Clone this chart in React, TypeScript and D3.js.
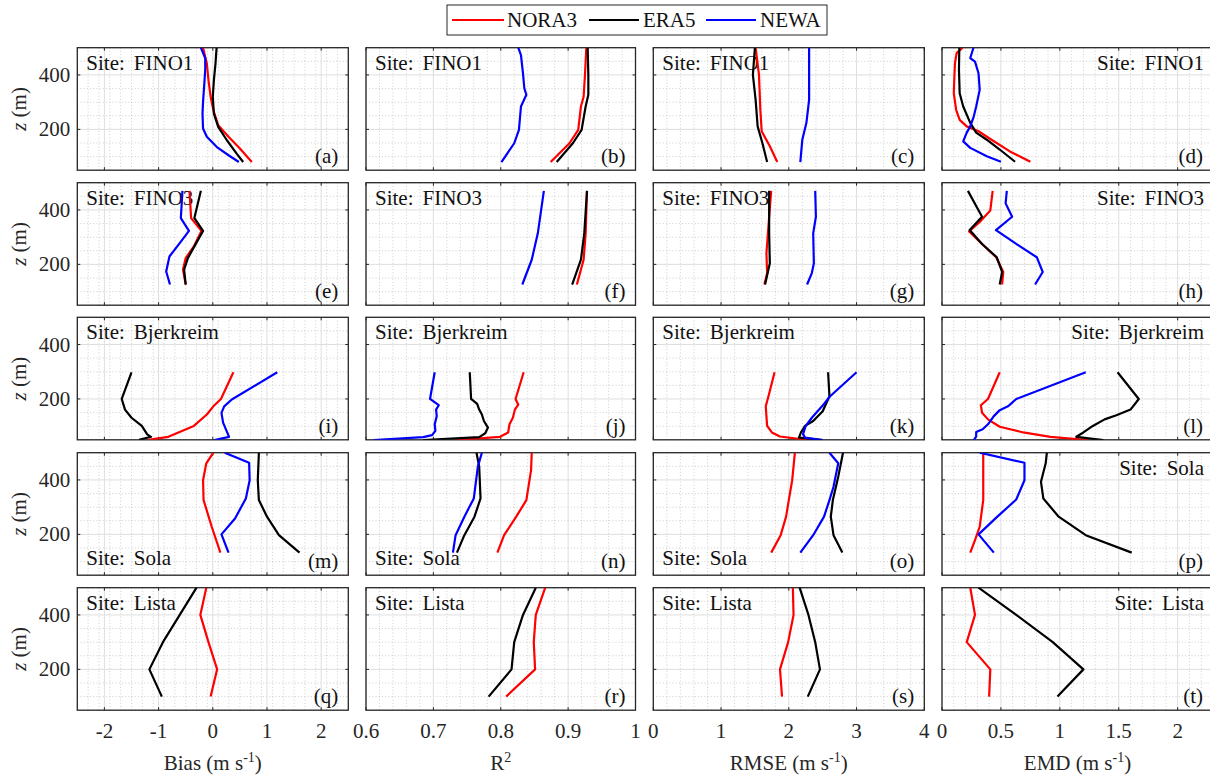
import React from 'react';
import * as d3 from 'd3';

type P = [number, number]; // [metric value, height z (m)]

// ---------- Data: [value, z] ----------
// Row 1: FINO1
const aNORA3: P[] = [[0.72,80],[0.50,130],[0.29,173],[0.10,215],[0.01,271],[-0.04,320],[-0.08,381],[-0.11,442],[-0.18,500]];
const aERA5: P[] = [[0.56,80],[0.44,111],[0.26,160],[0.10,209],[0.02,258],[0.0,320],[0.02,381],[0.05,442],[0.07,500]];
const aNEWA: P[] = [[0.48,80],[0.29,105],[0.07,136],[-0.11,173],[-0.18,203],[-0.19,258],[-0.18,301],[-0.16,357],[-0.14,418],[-0.14,461],[-0.22,500]];
const bNORA3: P[] = [[0.874,80],[0.902,149],[0.915,198],[0.919,284],[0.923,320],[0.925,400],[0.927,500]];
const bERA5: P[] = [[0.883,80],[0.907,149],[0.920,198],[0.926,284],[0.930,327],[0.930,400],[0.929,500]];
const bNEWA: P[] = [[0.801,80],[0.820,149],[0.827,198],[0.830,284],[0.838,327],[0.835,351],[0.833,406],[0.830,473],[0.826,500]];
const cNORA3: P[] = [[1.83,80],[1.72,138],[1.60,193],[1.58,272],[1.56,400],[1.51,500]];
const cERA5: P[] = [[1.68,80],[1.61,150],[1.54,211],[1.51,309],[1.47,400],[1.50,500]];
const cNEWA: P[] = [[2.17,80],[2.20,163],[2.26,224],[2.30,309],[2.30,400],[2.30,500]];
const dNORA3: P[] = [[0.75,81],[0.576,119],[0.42,162],[0.31,193],[0.21,211],[0.15,235],[0.12,272],[0.10,333],[0.104,382],[0.11,443],[0.124,480],[0.175,500]];
const dERA5: P[] = [[0.62,81],[0.49,126],[0.38,162],[0.29,188],[0.24,224],[0.18,284],[0.15,333],[0.144,418],[0.147,500]];
const dNEWA: P[] = [[0.50,81],[0.38,101],[0.24,132],[0.18,156],[0.21,188],[0.24,211],[0.27,248],[0.29,284],[0.32,345],[0.31,406],[0.28,449],[0.24,462],[0.267,500]];
// Row 2: FINO3
const eNORA3: P[] = [[-0.50,126],[-0.55,181],[-0.50,223],[-0.35,266],[-0.21,323],[-0.40,370],[-0.43,470]];
const eERA5: P[] = [[-0.50,126],[-0.53,181],[-0.46,223],[-0.34,266],[-0.18,323],[-0.34,370],[-0.22,470]];
const eNEWA: P[] = [[-0.79,126],[-0.86,174],[-0.80,229],[-0.61,278],[-0.44,323],[-0.59,370],[-0.56,470]];
const fNORA3: P[] = [[0.913,126],[0.923,217],[0.926,314],[0.928,470]];
const fERA5: P[] = [[0.906,126],[0.919,217],[0.924,314],[0.928,470]];
const fNEWA: P[] = [[0.832,126],[0.846,217],[0.855,314],[0.864,470]];
const gNORA3: P[] = [[1.64,126],[1.68,168],[1.67,241],[1.71,375],[1.74,470]];
const gERA5: P[] = [[1.65,126],[1.72,204],[1.71,314],[1.71,470]];
const gNEWA: P[] = [[2.27,126],[2.34,168],[2.37,204],[2.36,314],[2.40,375],[2.39,470]];
const hNORA3: P[] = [[0.51,126],[0.52,172],[0.46,226],[0.34,275],[0.23,321],[0.33,360],[0.41,398],[0.43,470]];
const hERA5: P[] = [[0.49,126],[0.51,172],[0.465,226],[0.34,275],[0.235,326],[0.34,375],[0.22,470]];
const hNEWA: P[] = [[0.79,126],[0.855,172],[0.805,226],[0.63,275],[0.458,326],[0.595,375],[0.54,424],[0.55,470]];
// Row 3: Bjerkreim
const iNORA3: P[] = [[-1.19,50],[-0.82,61],[-0.35,101],[-0.11,143],[0.01,173],[0.15,200],[0.38,298]];
const iERA5: P[] = [[-1.36,50],[-1.14,61],[-1.21,70],[-1.31,101],[-1.50,131],[-1.62,161],[-1.68,200],[-1.50,298]];
const iNEWA: P[] = [[0.03,49],[0.30,61],[0.19,113],[0.16,149],[0.21,173],[0.35,198],[1.19,298]];
const jNORA3: P[] = [[0.735,49],[0.799,61],[0.811,77],[0.813,107],[0.818,131],[0.821,161],[0.826,179],[0.822,200],[0.834,298]];
const jERA5: P[] = [[0.685,49],[0.768,60],[0.777,74],[0.781,95],[0.775,119],[0.772,143],[0.768,161],[0.765,182],[0.756,200],[0.754,298]];
const jNEWA: P[] = [[0.611,49],[0.685,60],[0.698,67],[0.703,83],[0.702,107],[0.705,137],[0.704,161],[0.708,177],[0.695,200],[0.702,298]];
const kNORA3: P[] = [[2.29,49],[1.87,62],[1.75,77],[1.68,101],[1.66,173],[1.70,210],[1.79,298]];
const kERA5: P[] = [[2.50,49],[2.15,58],[2.18,77],[2.24,101],[2.36,119],[2.50,155],[2.60,210],[2.58,298]];
const kNEWA: P[] = [[2.50,49],[2.24,58],[2.21,71],[2.25,101],[2.34,131],[2.49,173],[2.61,210],[3.00,298]];
const lNORA3: P[] = [[1.24,49],[0.92,61],[0.69,77],[0.49,98],[0.39,125],[0.34,149],[0.33,177],[0.39,200],[0.49,298]];
const lERA5: P[] = [[1.37,49],[1.14,61],[1.20,77],[1.28,101],[1.38,125],[1.48,140],[1.60,161],[1.67,200],[1.49,298]];
const lNEWA: P[] = [[0.27,49],[0.29,62],[0.29,79],[0.345,89],[0.39,107],[0.44,137],[0.49,159],[0.56,173],[0.63,200],[1.22,298]];
// Row 4: Sola
const mNORA3: P[] = [[0.14,133],[-0.02,228],[-0.17,326],[-0.18,399],[-0.12,461],[0.01,500]];
const mERA5: P[] = [[1.60,133],[1.22,197],[1.00,265],[0.85,326],[0.83,399],[0.85,500]];
const mNEWA: P[] = [[0.29,133],[0.16,200],[0.41,258],[0.61,332],[0.68,399],[0.67,463],[0.22,500]];
const nNORA3: P[] = [[0.795,133],[0.805,197],[0.823,265],[0.838,326],[0.845,436],[0.846,500]];
const nERA5: P[] = [[0.735,133],[0.746,197],[0.761,265],[0.770,332],[0.768,449],[0.764,500]];
const nNEWA: P[] = [[0.729,133],[0.733,197],[0.746,265],[0.760,332],[0.766,449],[0.772,500]];
const oNORA3: P[] = [[1.74,133],[1.88,197],[1.96,265],[2.00,326],[2.05,399],[2.09,500]];
const oERA5: P[] = [[2.79,133],[2.66,197],[2.62,265],[2.65,326],[2.73,412],[2.80,500]];
const oNEWA: P[] = [[2.17,133],[2.36,197],[2.52,265],[2.60,326],[2.66,375],[2.73,461],[2.60,500]];
const pNORA3: P[] = [[0.24,133],[0.28,179],[0.32,228],[0.35,326],[0.35,500]];
const pERA5: P[] = [[1.61,133],[1.22,197],[0.99,265],[0.86,332],[0.84,393],[0.88,461],[0.89,500]];
const pNEWA: P[] = [[0.44,133],[0.31,200],[0.47,265],[0.63,328],[0.70,399],[0.70,463],[0.32,500]];
// Row 5: Lista (no NEWA)
const qNORA3: P[] = [[-0.04,100],[0.08,200],[-0.08,300],[-0.23,400],[-0.12,500]];
const qERA5: P[] = [[-0.94,100],[-1.17,200],[-0.92,300],[-0.61,400],[-0.30,500]];
const rNORA3: P[] = [[0.808,100],[0.851,200],[0.849,300],[0.852,400],[0.866,500]];
const rERA5: P[] = [[0.782,100],[0.816,200],[0.820,300],[0.833,400],[0.852,500]];
const sNORA3: P[] = [[1.90,100],[1.87,200],[1.99,300],[2.07,400],[2.06,500]];
const sERA5: P[] = [[2.28,100],[2.46,200],[2.39,300],[2.29,400],[2.16,500]];
const tNORA3: P[] = [[0.40,100],[0.41,200],[0.21,300],[0.28,400],[0.24,500]];
const tERA5: P[] = [[0.98,100],[1.20,200],[0.94,300],[0.63,400],[0.31,500]];

const sites = ['FINO1', 'FINO3', 'Bjerkreim', 'Sola', 'Lista'];
const panelLetters = ['a','b','c','d','e','f','g','h','i','j','k','l','m','n','o','p','q','r','s','t'];
const seriesNames = ['NORA3', 'ERA5', 'NEWA'];
const seriesColors = ['#ff0000', '#000000', '#0000ff'];

const xDomains: [number, number][] = [[-2.5, 2.5], [0.6, 1], [0, 4], [0, 2.3]];
const xMajorTicks = [[-2, -1, 0, 1, 2], [0.6, 0.7, 0.8, 0.9, 1], [0, 1, 2, 3, 4], [0, 0.5, 1, 1.5, 2]];
const xTickLabels = [['-2', '-1', '0', '1', '2'], ['0.6', '0.7', '0.8', '0.9', '1'], ['0', '1', '2', '3', '4'], ['0', '0.5', '1', '1.5', '2']];
const xMinorStep = [0.2, 0.02, 0.2, 0.1];
const zDomain: [number, number] = [50, 500];
const zMajorTicks = [200, 400];
const zTickLabels = ['200', '400'];
const zMinorStep = 50;

const panelData: P[][][][] = [
  [[aNORA3, aERA5, aNEWA], [bNORA3, bERA5, bNEWA], [cNORA3, cERA5, cNEWA], [dNORA3, dERA5, dNEWA]],
  [[eNORA3, eERA5, eNEWA], [fNORA3, fERA5, fNEWA], [gNORA3, gERA5, gNEWA], [hNORA3, hERA5, hNEWA]],
  [[iNORA3, iERA5, iNEWA], [jNORA3, jERA5, jNEWA], [kNORA3, kERA5, kNEWA], [lNORA3, lERA5, lNEWA]],
  [[mNORA3, mERA5, mNEWA], [nNORA3, nERA5, nNEWA], [oNORA3, oERA5, oNEWA], [pNORA3, pERA5, pNEWA]],
  [[qNORA3, qERA5], [rNORA3, rERA5], [sNORA3, sERA5], [tNORA3, tERA5]],
] as any;

// ---------- Layout ----------
const colLeft = [77.3, 366, 653.3, 942];
const colWidth = [271, 269.5, 271, 271];
const rowTop = [47.7, 182.7, 317.3, 452.7, 587.7];
const rowH = 122.5;
const FONT = 'Liberation Serif';
const AX = '#262626';
const txt = (size: number) => ({ fontFamily: FONT, fontSize: size });

function range(a: number, b: number, step: number): number[] {
  const out: number[] = [];
  const n = Math.round((b - a) / step);
  for (let i = 0; i <= n; i++) out.push(+(a + i * step).toFixed(6));
  return out;
}

function Panel({ r, c }: { r: number; c: number }) {
  const x0 = colLeft[c], w = colWidth[c], y0 = rowTop[r], h = rowH;
  const xs = d3.scaleLinear().domain(xDomains[c]).range([x0, x0 + w]);
  const ys = d3.scaleLinear().domain(zDomain).range([y0 + h, y0]);
  const line = d3.line<P>().x(d => xs(d[0])).y(d => ys(d[1]));
  const majX = xMajorTicks[c];
  const minX = range(xDomains[c][0], xDomains[c][1], xMinorStep[c]).filter(v => !majX.some(m => Math.abs(m - v) < 1e-6));
  const minZ = range(zDomain[0], zDomain[1], zMinorStep).filter(v => !zMajorTicks.includes(v));
  const id = `clip-${r}-${c}`;
  const letter = panelLetters[r * 4 + c];
  const isSola = r === 3;
  const right = c === 3;
  const siteY = isSola && !right ? y0 + h - 10 : y0 + 22;
  const tl = 3;
  return (
    <g>
      <defs>
        <clipPath id={id}><rect x={x0} y={y0} width={w} height={h} /></clipPath>
      </defs>
      <rect x={x0} y={y0} width={w} height={h} fill="#fff" />
      {minX.map((v, i) => (
        <line key={'mx' + i} x1={xs(v)} x2={xs(v)} y1={y0} y2={y0 + h} stroke="#b8b8b8" strokeWidth={0.7} strokeDasharray="1 2.2" />
      ))}
      {minZ.map((v, i) => (
        <line key={'mz' + i} x1={x0} x2={x0 + w} y1={ys(v)} y2={ys(v)} stroke="#b8b8b8" strokeWidth={0.7} strokeDasharray="1 2.2" />
      ))}
      {majX.map((v, i) => (
        <line key={'Mx' + i} x1={xs(v)} x2={xs(v)} y1={y0} y2={y0 + h} stroke="#dedede" strokeWidth={1} />
      ))}
      {zMajorTicks.map((v, i) => (
        <line key={'Mz' + i} x1={x0} x2={x0 + w} y1={ys(v)} y2={ys(v)} stroke="#dedede" strokeWidth={1} />
      ))}
      <text x={right ? x0 + w - 9 : x0 + 9} y={siteY} style={txt(21)} textAnchor={right ? 'end' : 'start'} fill="#111">
        Site:<tspan dx={9}>{sites[r]}</tspan>
      </text>
      <text x={x0 + w - 10} y={y0 + h - 7} style={txt(21)} textAnchor="end" fill="#111">({letter})</text>
      <rect x={x0} y={y0} width={w} height={h} fill="none" stroke={AX} strokeWidth={1.3} />
      {majX.map((v, i) => (
        <g key={'tx' + i}>
          <line x1={xs(v)} x2={xs(v)} y1={y0 + h} y2={y0 + h - tl} stroke={AX} strokeWidth={1} />
          <line x1={xs(v)} x2={xs(v)} y1={y0} y2={y0 + tl} stroke={AX} strokeWidth={1} />
        </g>
      ))}
      {zMajorTicks.map((v, i) => (
        <g key={'tz' + i}>
          <line x1={x0} x2={x0 + tl} y1={ys(v)} y2={ys(v)} stroke={AX} strokeWidth={1} />
          <line x1={x0 + w} x2={x0 + w - tl} y1={ys(v)} y2={ys(v)} stroke={AX} strokeWidth={1} />
        </g>
      ))}
      <g clipPath={`url(#${id})`}>
        {panelData[r][c].map((s, k) => (
          <path key={k} d={line(s) || ''} fill="none" stroke={seriesColors[k]} strokeWidth={2.2} strokeLinejoin="round" />
        ))}
      </g>
      {c === 0 && zMajorTicks.map((v, i) => (
        <text key={'zl' + i} x={x0 - 7} y={ys(v) + 7} style={txt(21)} textAnchor="end" fill="#262626">{zTickLabels[i]}</text>
      ))}
      {c === 0 && (
        <text transform={`translate(26,${y0 + h / 2}) rotate(-90)`} style={txt(21)} textAnchor="middle" fill="#262626">
          <tspan fontStyle="italic">z</tspan> (m)
        </text>
      )}
      {r === 4 && majX.map((v, i) => (
        <text key={'xl' + i} x={xs(v)} y={738} style={txt(21)} textAnchor="middle" fill="#262626">{xTickLabels[c][i]}</text>
      ))}
    </g>
  );
}

const xTitles = [
  (<>Bias (m s<tspan dy={-8} fontSize={14}>-1</tspan><tspan dy={8}>)</tspan></>),
  (<>R<tspan dy={-8} fontSize={14}>2</tspan></>),
  (<>RMSE (m s<tspan dy={-8} fontSize={14}>-1</tspan><tspan dy={8}>)</tspan></>),
  (<>EMD (m s<tspan dy={-8} fontSize={14}>-1</tspan><tspan dy={8}>)</tspan></>),
];

const legendItems = [
  { x1: 452, x2: 504, tx: 507 },
  { x1: 589, x2: 639, tx: 643 },
  { x1: 706, x2: 756, tx: 760 },
];

export default function App() {
  const rows = [0, 1, 2, 3, 4];
  const cols = [0, 1, 2, 3];
  return (
    <svg width={1210} height={778} style={{ position: 'absolute', left: 0, top: 0, background: '#fff' }}>
      <rect x={0} y={0} width={1210} height={778} fill="#fff" />
      {rows.map(r => cols.map(c => <Panel key={`${r}-${c}`} r={r} c={c} />))}
      {cols.map(c => (
        <text key={'xt' + c} x={colLeft[c] + colWidth[c] / 2} y={770} style={txt(21)} textAnchor="middle" fill="#262626">
          {xTitles[c]}
        </text>
      ))}
      <g>
        <rect x={447} y={5} width={380} height={30} fill="#fff" stroke={AX} strokeWidth={1} />
        {legendItems.map((it, i) => (
          <g key={i}>
            <line x1={it.x1} x2={it.x2} y1={20} y2={20} stroke={seriesColors[i]} strokeWidth={2.2} />
            <text x={it.tx} y={27} style={txt(21)} fill="#111">{seriesNames[i]}</text>
          </g>
        ))}
      </g>
    </svg>
  );
}
